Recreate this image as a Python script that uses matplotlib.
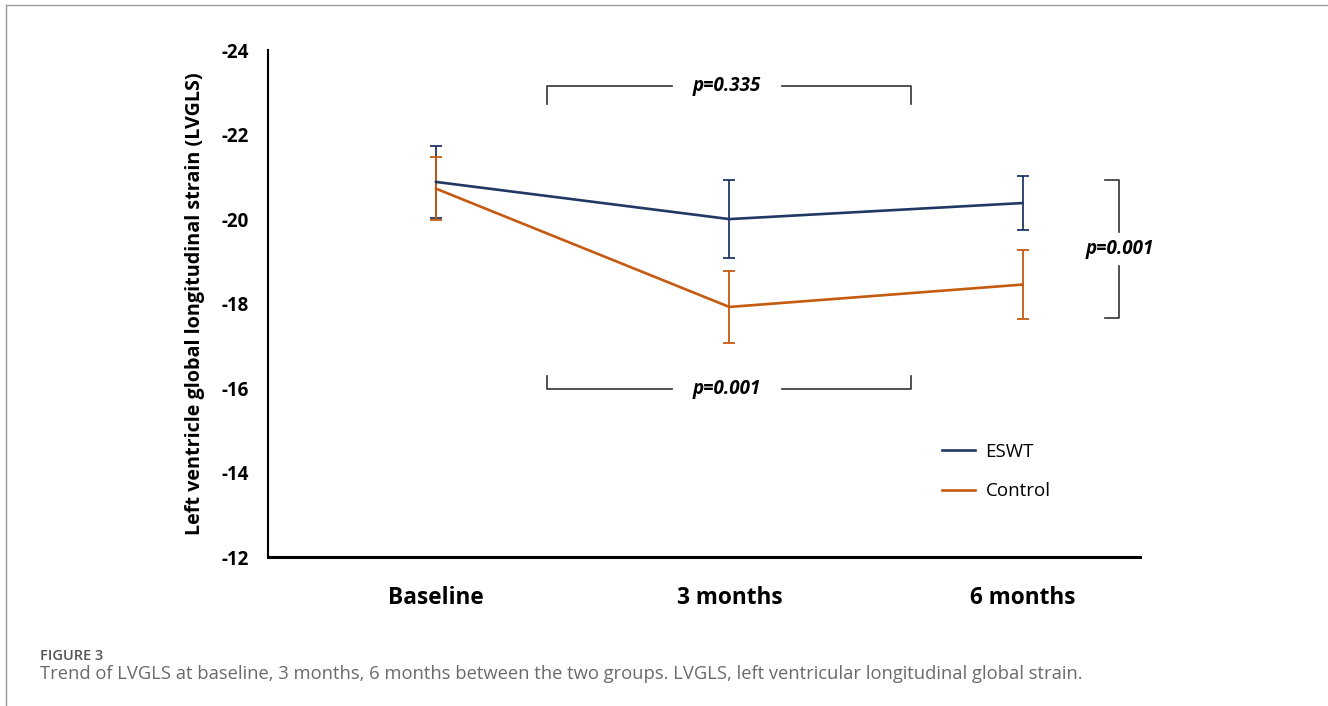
import matplotlib
matplotlib.use("Agg")
import matplotlib.pyplot as plt
from matplotlib.lines import Line2D

plt.rcParams['font.family'] = ['Open Sans', 'DejaVu Sans']

timepoints = ["Baseline", "3 months", "6 months"]
eswt_mean = [-20.88, -20.0, -20.38]
eswt_err = [0.85, 0.92, 0.63]
control_mean = [-20.72, -17.92, -18.45]
control_err = [0.74, 0.86, 0.82]
y_ticks = [-24, -22, -20, -18, -16, -14, -12]

ESWT_COLOR = "#203864"
CONTROL_COLOR = "#C55A11"
BRACKET_COLOR = "#333333"

fig = plt.figure(figsize=(13.28, 7.06), dpi=100)
ax = fig.add_axes([0.2018, 0.211, 0.6566, 0.718])

x = list(range(len(timepoints)))
ax.errorbar(x, eswt_mean, yerr=eswt_err, color=ESWT_COLOR, lw=1.9,
            elinewidth=1.3, capsize=4, capthick=1.3, label="ESWT", zorder=3)
ax.errorbar(x, control_mean, yerr=control_err, color=CONTROL_COLOR, lw=1.9,
            elinewidth=1.3, capsize=4, capthick=1.3, label="Control", zorder=3)

ax.set_ylim(-12, -24)
ax.set_xlim(-0.573, 2.40)
ax.set_yticks(y_ticks)
ax.set_yticklabels([str(t) for t in y_ticks], fontsize=13.5, fontweight="bold")
ax.set_xticks(x)
ax.set_xticklabels(timepoints, fontsize=16.3, fontweight="bold")
ax.tick_params(axis="both", length=0)
ax.tick_params(axis="y", pad=14)
ax.tick_params(axis="x", pad=21)
ax.set_ylabel("Left ventricle global longitudinal strain (LVGLS)",
              fontsize=14.2, fontweight="bold", labelpad=12)

for s in ["top", "right"]:
    ax.spines[s].set_visible(False)
ax.spines["left"].set_linewidth(1.5)
ax.spines["bottom"].set_linewidth(2.2)

# significance brackets
bk = dict(color=BRACKET_COLOR, lw=1.2, clip_on=False)
ptxt = dict(ha="center", va="center", fontsize=13.5, fontweight="bold",
            style="italic")
# top bracket (ESWT baseline vs 6 months)
ax.plot([0.379, 0.379, 0.805], [-22.72, -23.15, -23.15], **bk)
ax.plot([1.181, 1.621, 1.621], [-23.15, -23.15, -22.72], **bk)
ax.text(0.993, -23.15, "p=0.335", **ptxt)
# bottom bracket (control)
ax.plot([0.379, 0.379, 0.805], [-16.28, -15.98, -15.98], **bk)
ax.plot([1.181, 1.621, 1.621], [-15.98, -15.98, -16.28], **bk)
ax.text(0.993, -15.98, "p=0.001", **ptxt)
# right bracket (between groups at 6 months)
ax.plot([2.280, 2.328, 2.328], [-20.92, -20.92, -19.69], **bk)
ax.plot([2.328, 2.328, 2.280], [-18.89, -17.66, -17.66], **bk)
ax.text(2.330, -19.3, "p=0.001", **ptxt)

handles = [Line2D([], [], color=ESWT_COLOR, lw=1.9),
           Line2D([], [], color=CONTROL_COLOR, lw=1.9)]
ax.legend(handles, ["ESWT", "Control"], loc="upper left",
          bbox_to_anchor=(0.754, 0.259), frameon=False, fontsize=13.5,
          handlelength=1.75, handletextpad=0.55, labelspacing=1.15)

# caption
fig.text(0.030, 0.071, "FIGURE 3", fontsize=10.5, fontweight="semibold",
         color="#555555", va="center")
fig.text(0.030, 0.046, "Trend of LVGLS at baseline, 3 months, 6 months between the two groups. "
         "LVGLS, left ventricular longitudinal global strain.",
         fontsize=13.2, color="#6a6a6a", va="center")

# frame around figure
frame_color = "#999999"
fig.add_artist(Line2D([0.0045, 1.0], [0.993, 0.993], color=frame_color, lw=1,
                      transform=fig.transFigure))
fig.add_artist(Line2D([0.0045, 0.0045], [0.0, 0.993], color=frame_color, lw=1,
                      transform=fig.transFigure))

fig.savefig("out.png", dpi=100)
